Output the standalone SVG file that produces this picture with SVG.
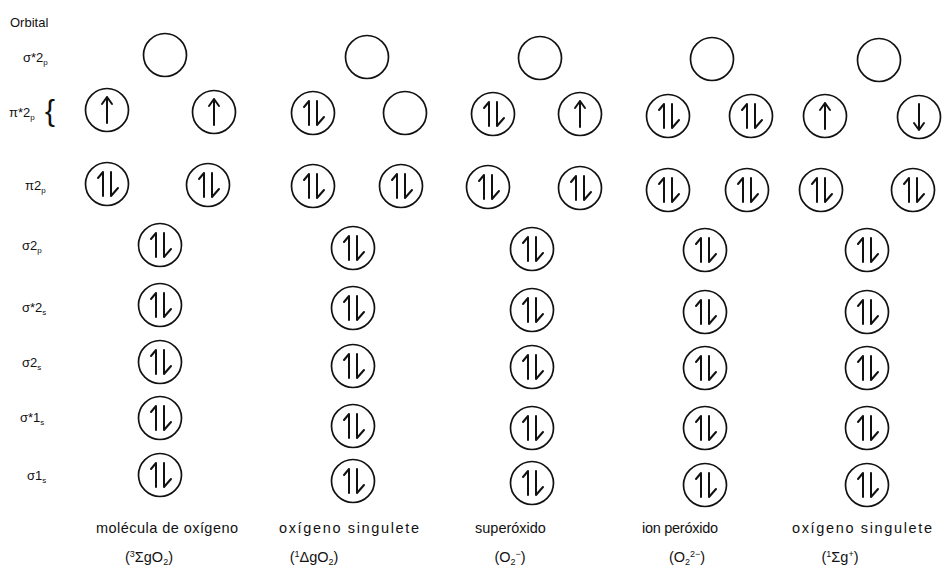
<svg xmlns="http://www.w3.org/2000/svg" xmlns:xlink="http://www.w3.org/1999/xlink" width="943" height="578" viewBox="0 0 943 578">
<style>
.lbl{font-family:"Liberation Sans",Arial,sans-serif;font-size:13px;fill:#111}
.cap{font-family:"Liberation Sans",Arial,sans-serif;font-size:14.5px;fill:#111}
.c{fill:none;stroke:#111;stroke-width:1.7}
.a{fill:none;stroke:#111;stroke-width:2;stroke-linecap:round;stroke-linejoin:round}
</style>
<defs>
<g id="empty"><circle class="c" r="21.5"/></g>
<g id="up"><circle class="c" r="21.5"/><path class="a" d="M0,13 V-13 M-5,-6 L0,-13 L5,-6"/></g>
<g id="dn"><circle class="c" r="21.5"/><path class="a" d="M0,-13 V13 M-5,6 L0,13 L5,6"/></g>
<g id="pair"><circle class="c" r="21.5"/><path class="a" d="M-4,12 V-12 L-9,-6 M4,-12 V12 L11,4"/></g>
</defs>
<rect width="943" height="578" fill="#fff"/>

<g id="row-labels">
<text class="lbl" x="10" y="27">Orbital</text>
<text class="lbl" x="23" y="62">σ*2<tspan dy="3" font-size="8">p</tspan></text>
<text class="lbl" x="9" y="117">π*2<tspan dy="3" font-size="8">p</tspan></text>
<text x="45" y="121" font-family="Liberation Sans, sans-serif" font-size="30" font-weight="200" fill="#111">{</text>
<text class="lbl" x="25" y="190">π2<tspan dy="3" font-size="8">p</tspan></text>
<text class="lbl" x="22" y="250">σ2<tspan dy="3" font-size="8">p</tspan></text>
<text class="lbl" x="22" y="312">σ*2<tspan dy="3" font-size="8">s</tspan></text>
<text class="lbl" x="22" y="367">σ2<tspan dy="3" font-size="8">s</tspan></text>
<text class="lbl" x="20" y="422">σ*1<tspan dy="3" font-size="8">s</tspan></text>
<text class="lbl" x="27" y="480">σ1<tspan dy="3" font-size="8">s</tspan></text>
</g>

<g id="g1">
<g id="g1-sigma-star-2p"><use href="#empty" x="165" y="55"/></g>
<g id="g1-pi-star-2p-a"><use href="#up" x="107" y="110"/></g>
<g id="g1-pi-star-2p-b"><use href="#up" x="214" y="112"/></g>
<g id="g1-pi-2p-a"><use href="#pair" x="107" y="184"/></g>
<g id="g1-pi-2p-b"><use href="#pair" x="208" y="185"/></g>
<g id="g1-sigma-2p"><use href="#pair" x="160" y="245"/></g>
<g id="g1-sigma-star-2s"><use href="#pair" x="160" y="305"/></g>
<g id="g1-sigma-2s"><use href="#pair" x="160" y="362"/></g>
<g id="g1-sigma-star-1s"><use href="#pair" x="160" y="418"/></g>
<g id="g1-sigma-1s"><use href="#pair" x="160" y="475"/></g>
</g>

<g id="g2">
<g id="g2-sigma-star-2p"><use href="#empty" x="367" y="57"/></g>
<g id="g2-pi-star-2p-a"><use href="#pair" x="313" y="113"/></g>
<g id="g2-pi-star-2p-b"><use href="#empty" x="405" y="113"/></g>
<g id="g2-pi-2p-a"><use href="#pair" x="313" y="186"/></g>
<g id="g2-pi-2p-b"><use href="#pair" x="401" y="186"/></g>
<g id="g2-sigma-2p"><use href="#pair" x="353" y="248"/></g>
<g id="g2-sigma-star-2s"><use href="#pair" x="353" y="308"/></g>
<g id="g2-sigma-2s"><use href="#pair" x="353" y="366"/></g>
<g id="g2-sigma-star-1s"><use href="#pair" x="353" y="426"/></g>
<g id="g2-sigma-1s"><use href="#pair" x="353" y="481"/></g>
</g>

<g id="g3">
<g id="g3-sigma-star-2p"><use href="#empty" x="540" y="58"/></g>
<g id="g3-pi-star-2p-a"><use href="#pair" x="493" y="114"/></g>
<g id="g3-pi-star-2p-b"><use href="#up" x="580" y="114"/></g>
<g id="g3-pi-2p-a"><use href="#pair" x="488" y="187"/></g>
<g id="g3-pi-2p-b"><use href="#pair" x="580" y="188"/></g>
<g id="g3-sigma-2p"><use href="#pair" x="532" y="249"/></g>
<g id="g3-sigma-star-2s"><use href="#pair" x="532" y="310"/></g>
<g id="g3-sigma-2s"><use href="#pair" x="532" y="367"/></g>
<g id="g3-sigma-star-1s"><use href="#pair" x="532" y="428"/></g>
<g id="g3-sigma-1s"><use href="#pair" x="532" y="483"/></g>
</g>

<g id="g4">
<g id="g4-sigma-star-2p"><use href="#empty" x="712" y="59"/></g>
<g id="g4-pi-star-2p-a"><use href="#pair" x="668" y="116"/></g>
<g id="g4-pi-star-2p-b"><use href="#pair" x="751" y="116"/></g>
<g id="g4-pi-2p-a"><use href="#pair" x="668" y="190"/></g>
<g id="g4-pi-2p-b"><use href="#pair" x="747" y="190"/></g>
<g id="g4-sigma-2p"><use href="#pair" x="705" y="250"/></g>
<g id="g4-sigma-star-2s"><use href="#pair" x="705" y="312"/></g>
<g id="g4-sigma-2s"><use href="#pair" x="705" y="368"/></g>
<g id="g4-sigma-star-1s"><use href="#pair" x="705" y="428"/></g>
<g id="g4-sigma-1s"><use href="#pair" x="705" y="485"/></g>
</g>

<g id="g5">
<g id="g5-sigma-star-2p"><use href="#empty" x="879" y="60"/></g>
<g id="g5-pi-star-2p-a"><use href="#up" x="825" y="116"/></g>
<g id="g5-pi-star-2p-b"><use href="#dn" x="919" y="117"/></g>
<g id="g5-pi-2p-a"><use href="#pair" x="821" y="190"/></g>
<g id="g5-pi-2p-b"><use href="#pair" x="913" y="190"/></g>
<g id="g5-sigma-2p"><use href="#pair" x="867" y="250"/></g>
<g id="g5-sigma-star-2s"><use href="#pair" x="867" y="312"/></g>
<g id="g5-sigma-2s"><use href="#pair" x="867" y="368"/></g>
<g id="g5-sigma-star-1s"><use href="#pair" x="867" y="428"/></g>
<g id="g5-sigma-1s"><use href="#pair" x="867" y="485"/></g>
</g>

<g id="captions">
<text class="cap" x="96" y="533" textLength="142" lengthAdjust="spacing">molécula de oxígeno</text>
<text class="cap" x="279" y="533" textLength="140" lengthAdjust="spacing">oxígeno singulete</text>
<text class="cap" x="475" y="533">superóxido</text>
<text class="cap" x="642" y="533" textLength="76" lengthAdjust="spacing">ion peróxido</text>
<text class="cap" x="792" y="533" textLength="140" lengthAdjust="spacing">oxígeno singulete</text>

<text class="cap" x="149" y="562" text-anchor="middle">(<tspan dy="-5" font-size="9">3</tspan><tspan dy="5">ΣgO</tspan><tspan dy="3" font-size="9">2</tspan><tspan dy="-3">)</tspan></text>
<text class="cap" x="314" y="562" text-anchor="middle">(<tspan dy="-5" font-size="9">1</tspan><tspan dy="5">ΔgO</tspan><tspan dy="3" font-size="9">2</tspan><tspan dy="-3">)</tspan></text>
<text class="cap" x="510" y="562" text-anchor="middle">(O<tspan dy="3" font-size="9">2</tspan><tspan dy="-8" font-size="9">−</tspan><tspan dy="5">)</tspan></text>
<text class="cap" x="687" y="562" text-anchor="middle">(O<tspan dy="3" font-size="9">2</tspan><tspan dy="-8" font-size="9">2−</tspan><tspan dy="5">)</tspan></text>
<text class="cap" x="840" y="562" text-anchor="middle">(<tspan dy="-5" font-size="9">1</tspan><tspan dy="5">Σg</tspan><tspan dy="-5" font-size="9">+</tspan><tspan dy="5">)</tspan></text>
</g>
</svg>
